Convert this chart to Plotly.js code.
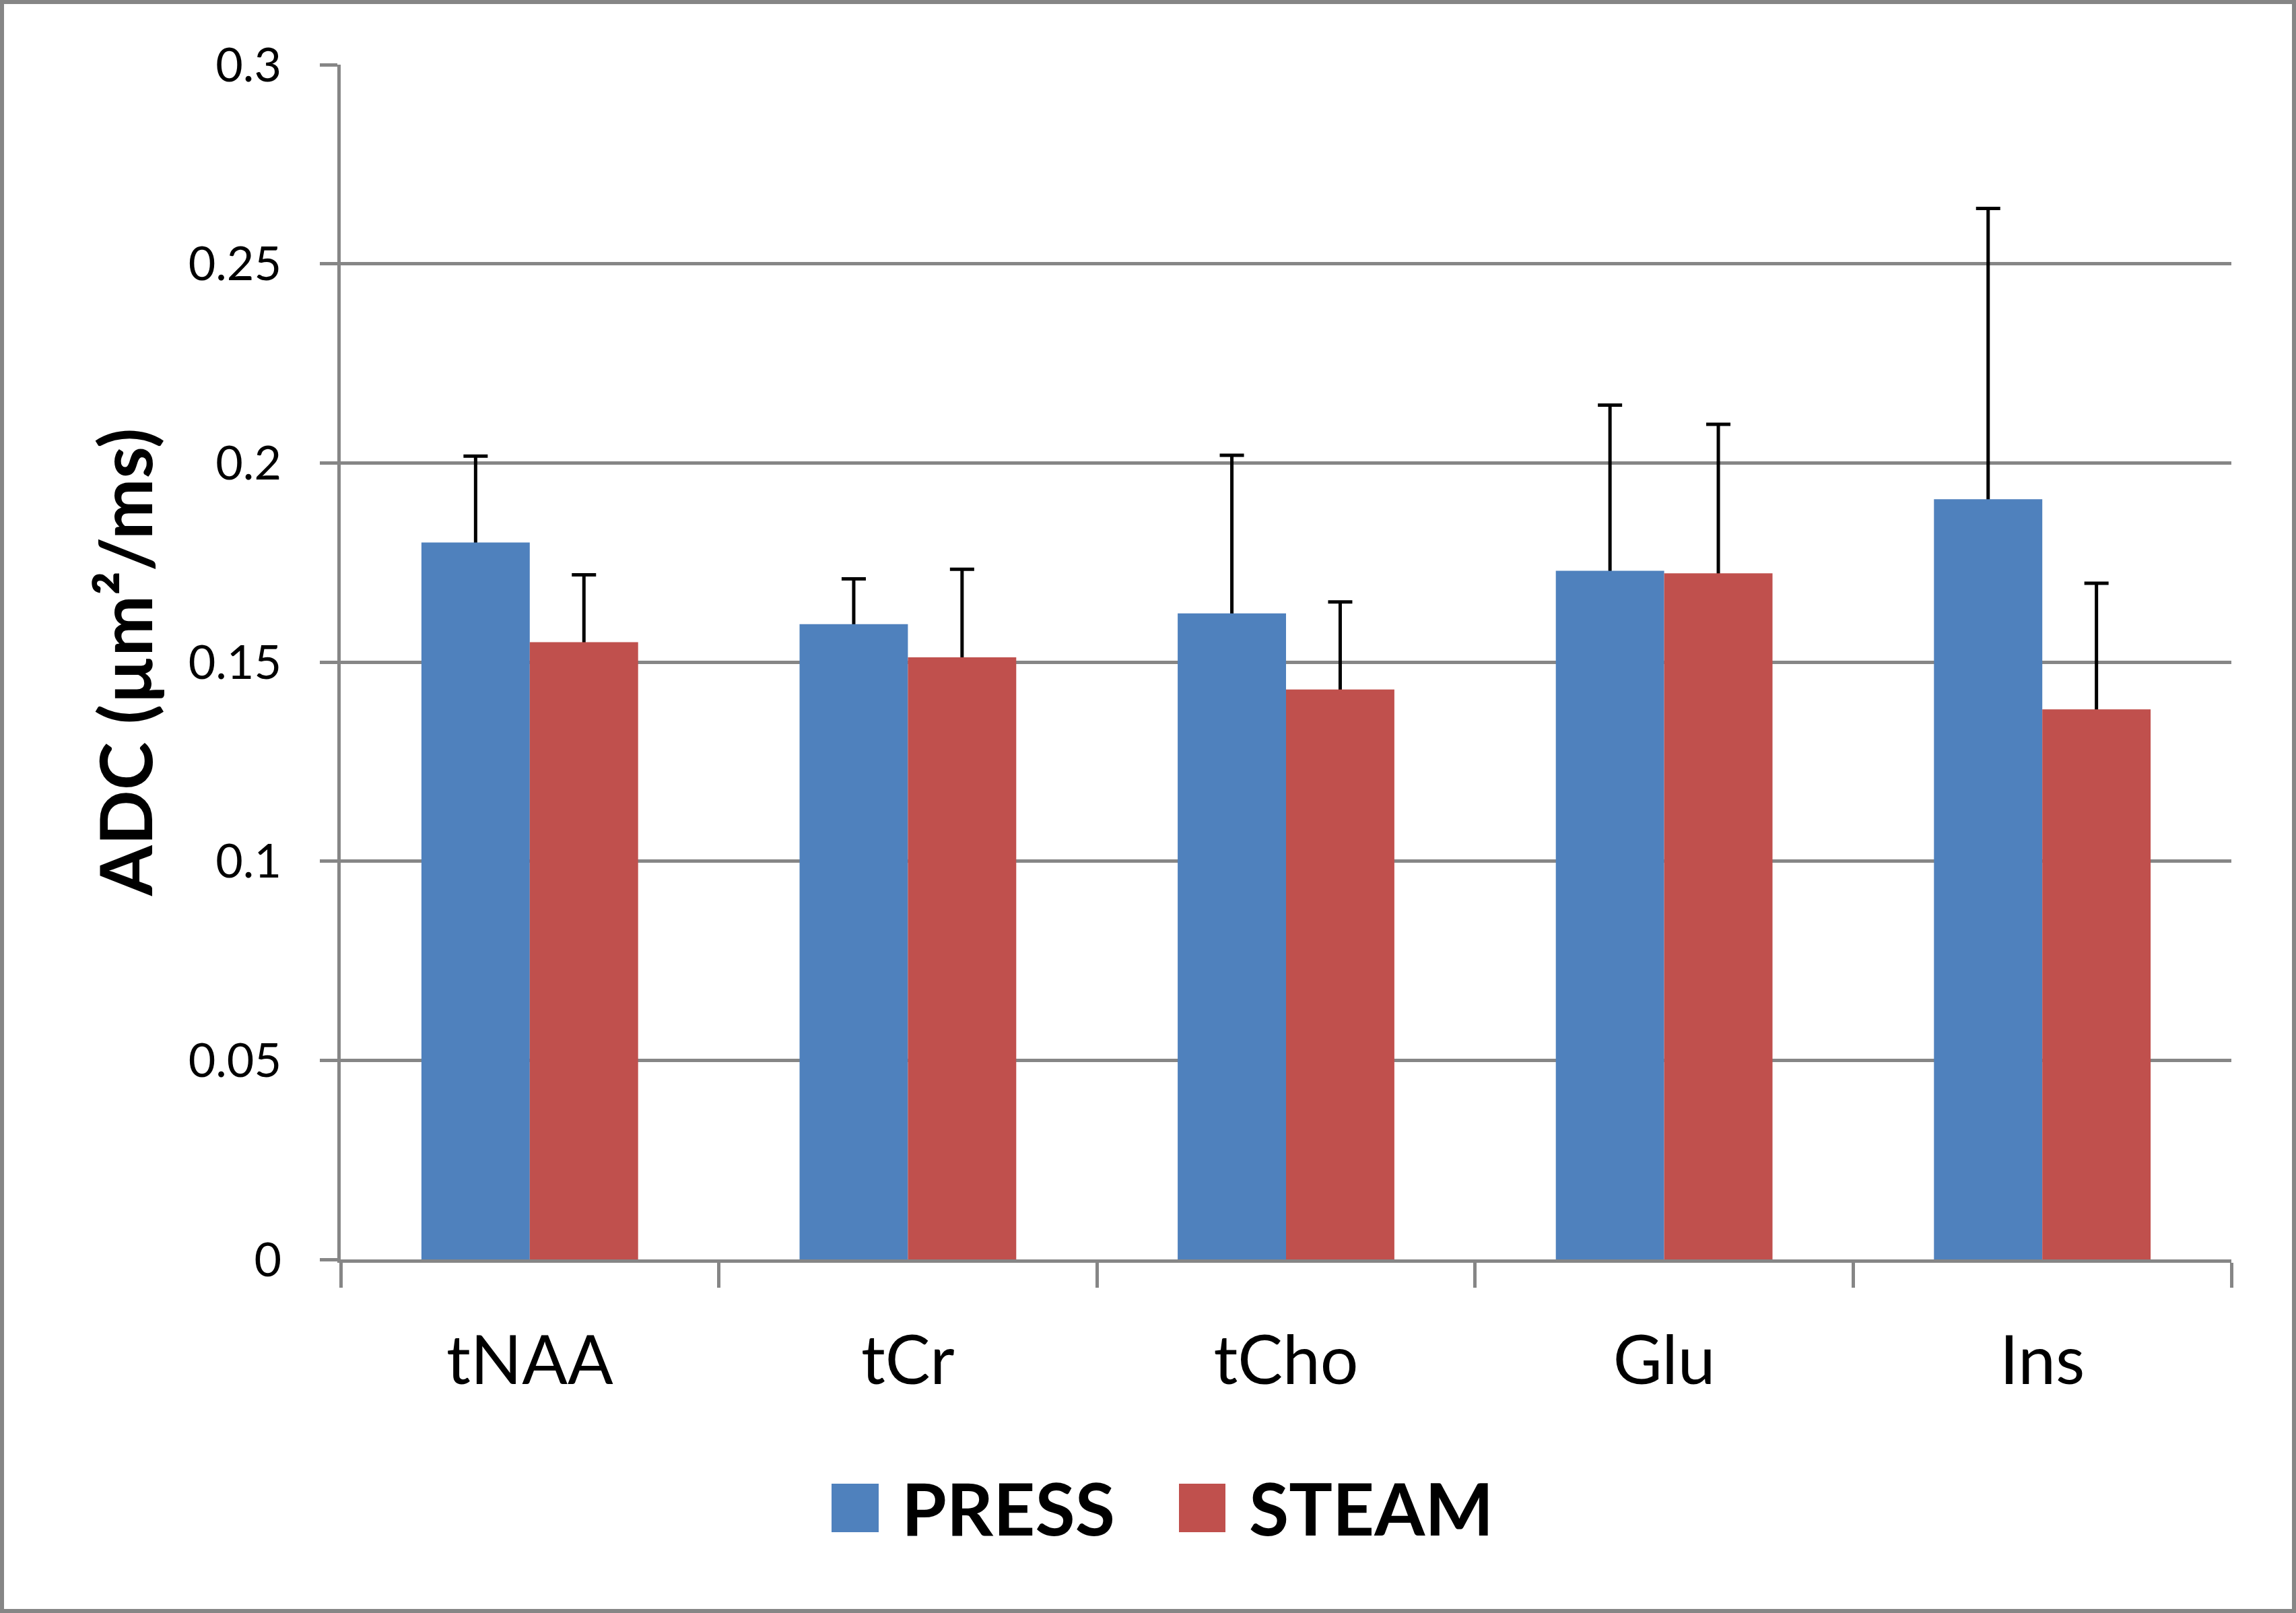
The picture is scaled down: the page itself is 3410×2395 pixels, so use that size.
<!DOCTYPE html>
<html>
<head>
<meta charset="utf-8">
<script src="https://cdn.plot.ly/plotly-3.0.1.min.js"></script>
<style>
  html, body { margin: 0; padding: 0; background: #ffffff; }
  #chart { width: 3410px; height: 2395px; }
</style>
</head>
<body>
<div id="chart"></div>
<script>
// ---- data ----
const categories = ["tNAA", "tCr", "tCho", "Glu", "Ins"];
const seriesNames = ["PRESS", "STEAM"];
const pressValues = [0.180, 0.1595, 0.1622, 0.1729, 0.1909];
const pressErrors = [0.0217, 0.0114, 0.0397, 0.0416, 0.0730];
const steamValues = [0.155, 0.1512, 0.1431, 0.1723, 0.1381];
const steamErrors = [0.0169, 0.0221, 0.0220, 0.0374, 0.0317];
const yTickVals = [0, 0.05, 0.1, 0.15, 0.2, 0.25, 0.3];
const yTickText = ["0", "0.05", "0.1", "0.15", "0.2", "0.25", "0.3"];
const yAxisTitle = "ADC (µm²/ms)";

// ---- layout geometry ----
const W = 3410, H = 2395;
const M = { l: 506, r: 96, t: 96, b: 525 };
const PW = W - M.l - M.r, PH = H - M.t - M.b;
const px2x = p => (p - M.l) / PW;
const py2y = p => (H - M.b - p) / PH;

const colors = ["#4F81BD", "#C0504D"];
const gray = "#868686";
const FONT = "Lato, 'Open Sans', sans-serif";

// lower end of the (plus-only) error bar is tucked inside the bar so its cap is hidden
const hiddenTail = categories.map(() => 0.003);

function errTrace(name, vals, errs, group) {
  return {
    type: "bar", name: name, x: categories, y: vals, offsetgroup: group,
    marker: { color: "rgba(0,0,0,0)", line: { width: 0 } },
    error_y: { type: "data", array: errs, arrayminus: hiddenTail, symmetric: false,
               visible: true, color: "#000000", thickness: 5, width: 18 },
    showlegend: false, hoverinfo: "skip"
  };
}
function barTrace(name, vals, color, group) {
  return {
    type: "bar", name: name, x: categories, y: vals, offsetgroup: group,
    marker: { color: color, line: { width: 0 } },
    showlegend: false
  };
}

const traces = [
  errTrace(seriesNames[0], pressValues, pressErrors, "g1"),
  errTrace(seriesNames[1], steamValues, steamErrors, "g2"),
  barTrace(seriesNames[0], pressValues, colors[0], "g1"),
  barTrace(seriesNames[1], steamValues, colors[1], "g2")
];

// legend drawn as shapes + text
const legendItems = [
  { sx0: 1235, sx1: 1305, tx: 1337 },
  { sx0: 1751, sx1: 1820, tx: 1853 }
];
const shapes = [
  { type: "rect", xref: "paper", yref: "paper",
    x0: px2x(3), x1: px2x(W - 3), y0: py2y(H - 3), y1: py2y(3),
    line: { color: gray, width: 6 }, fillcolor: "rgba(0,0,0,0)", layer: "above" }
];
const annotations = [];
legendItems.forEach((it, i) => {
  shapes.push({ type: "rect", xref: "paper", yref: "paper",
    x0: px2x(it.sx0), x1: px2x(it.sx1), y0: py2y(2275), y1: py2y(2203),
    line: { width: 0 }, fillcolor: colors[i] });
  annotations.push({ xref: "paper", yref: "paper", x: px2x(it.tx), y: py2y(2238),
    xanchor: "left", yanchor: "middle", showarrow: false, text: "<b>" + seriesNames[i] + "</b>",
    font: { family: FONT, size: 108, color: "#000000" } });
});

const layout = {
  width: W, height: H,
  margin: M,
  paper_bgcolor: "#ffffff", plot_bgcolor: "#ffffff",
  font: { family: FONT, color: "#000000" },
  barmode: "group", bargap: 0.427, bargroupgap: 0,
  showlegend: false,
  xaxis: {
    type: "category", tickson: "boundaries",
    showline: true, linecolor: gray, linewidth: 5,
    ticks: "outside", ticklen: 37, tickwidth: 5, tickcolor: gray,
    showgrid: false, zeroline: false,
    tickfont: { family: FONT, size: 100, color: "#000000" },
    ticklabelstandoff: 60
  },
  yaxis: {
    range: [0, 0.3], tickvals: yTickVals, ticktext: yTickText,
    showline: true, linecolor: gray, linewidth: 5,
    ticks: "outside", ticklen: 26, tickwidth: 5, tickcolor: gray,
    showgrid: true, gridcolor: gray, gridwidth: 5, zeroline: false,
    tickfont: { family: FONT, size: 70, color: "#000000" },
    ticklabelstandoff: 43,
    title: { text: "<b>" + yAxisTitle + "</b>", font: { family: FONT, size: 108, color: "#000000" }, standoff: 18 }
  },
  shapes: shapes,
  annotations: annotations
};

Plotly.newPlot("chart", traces, layout, { staticPlot: true, displayModeBar: false });
</script>
</body>
</html>
